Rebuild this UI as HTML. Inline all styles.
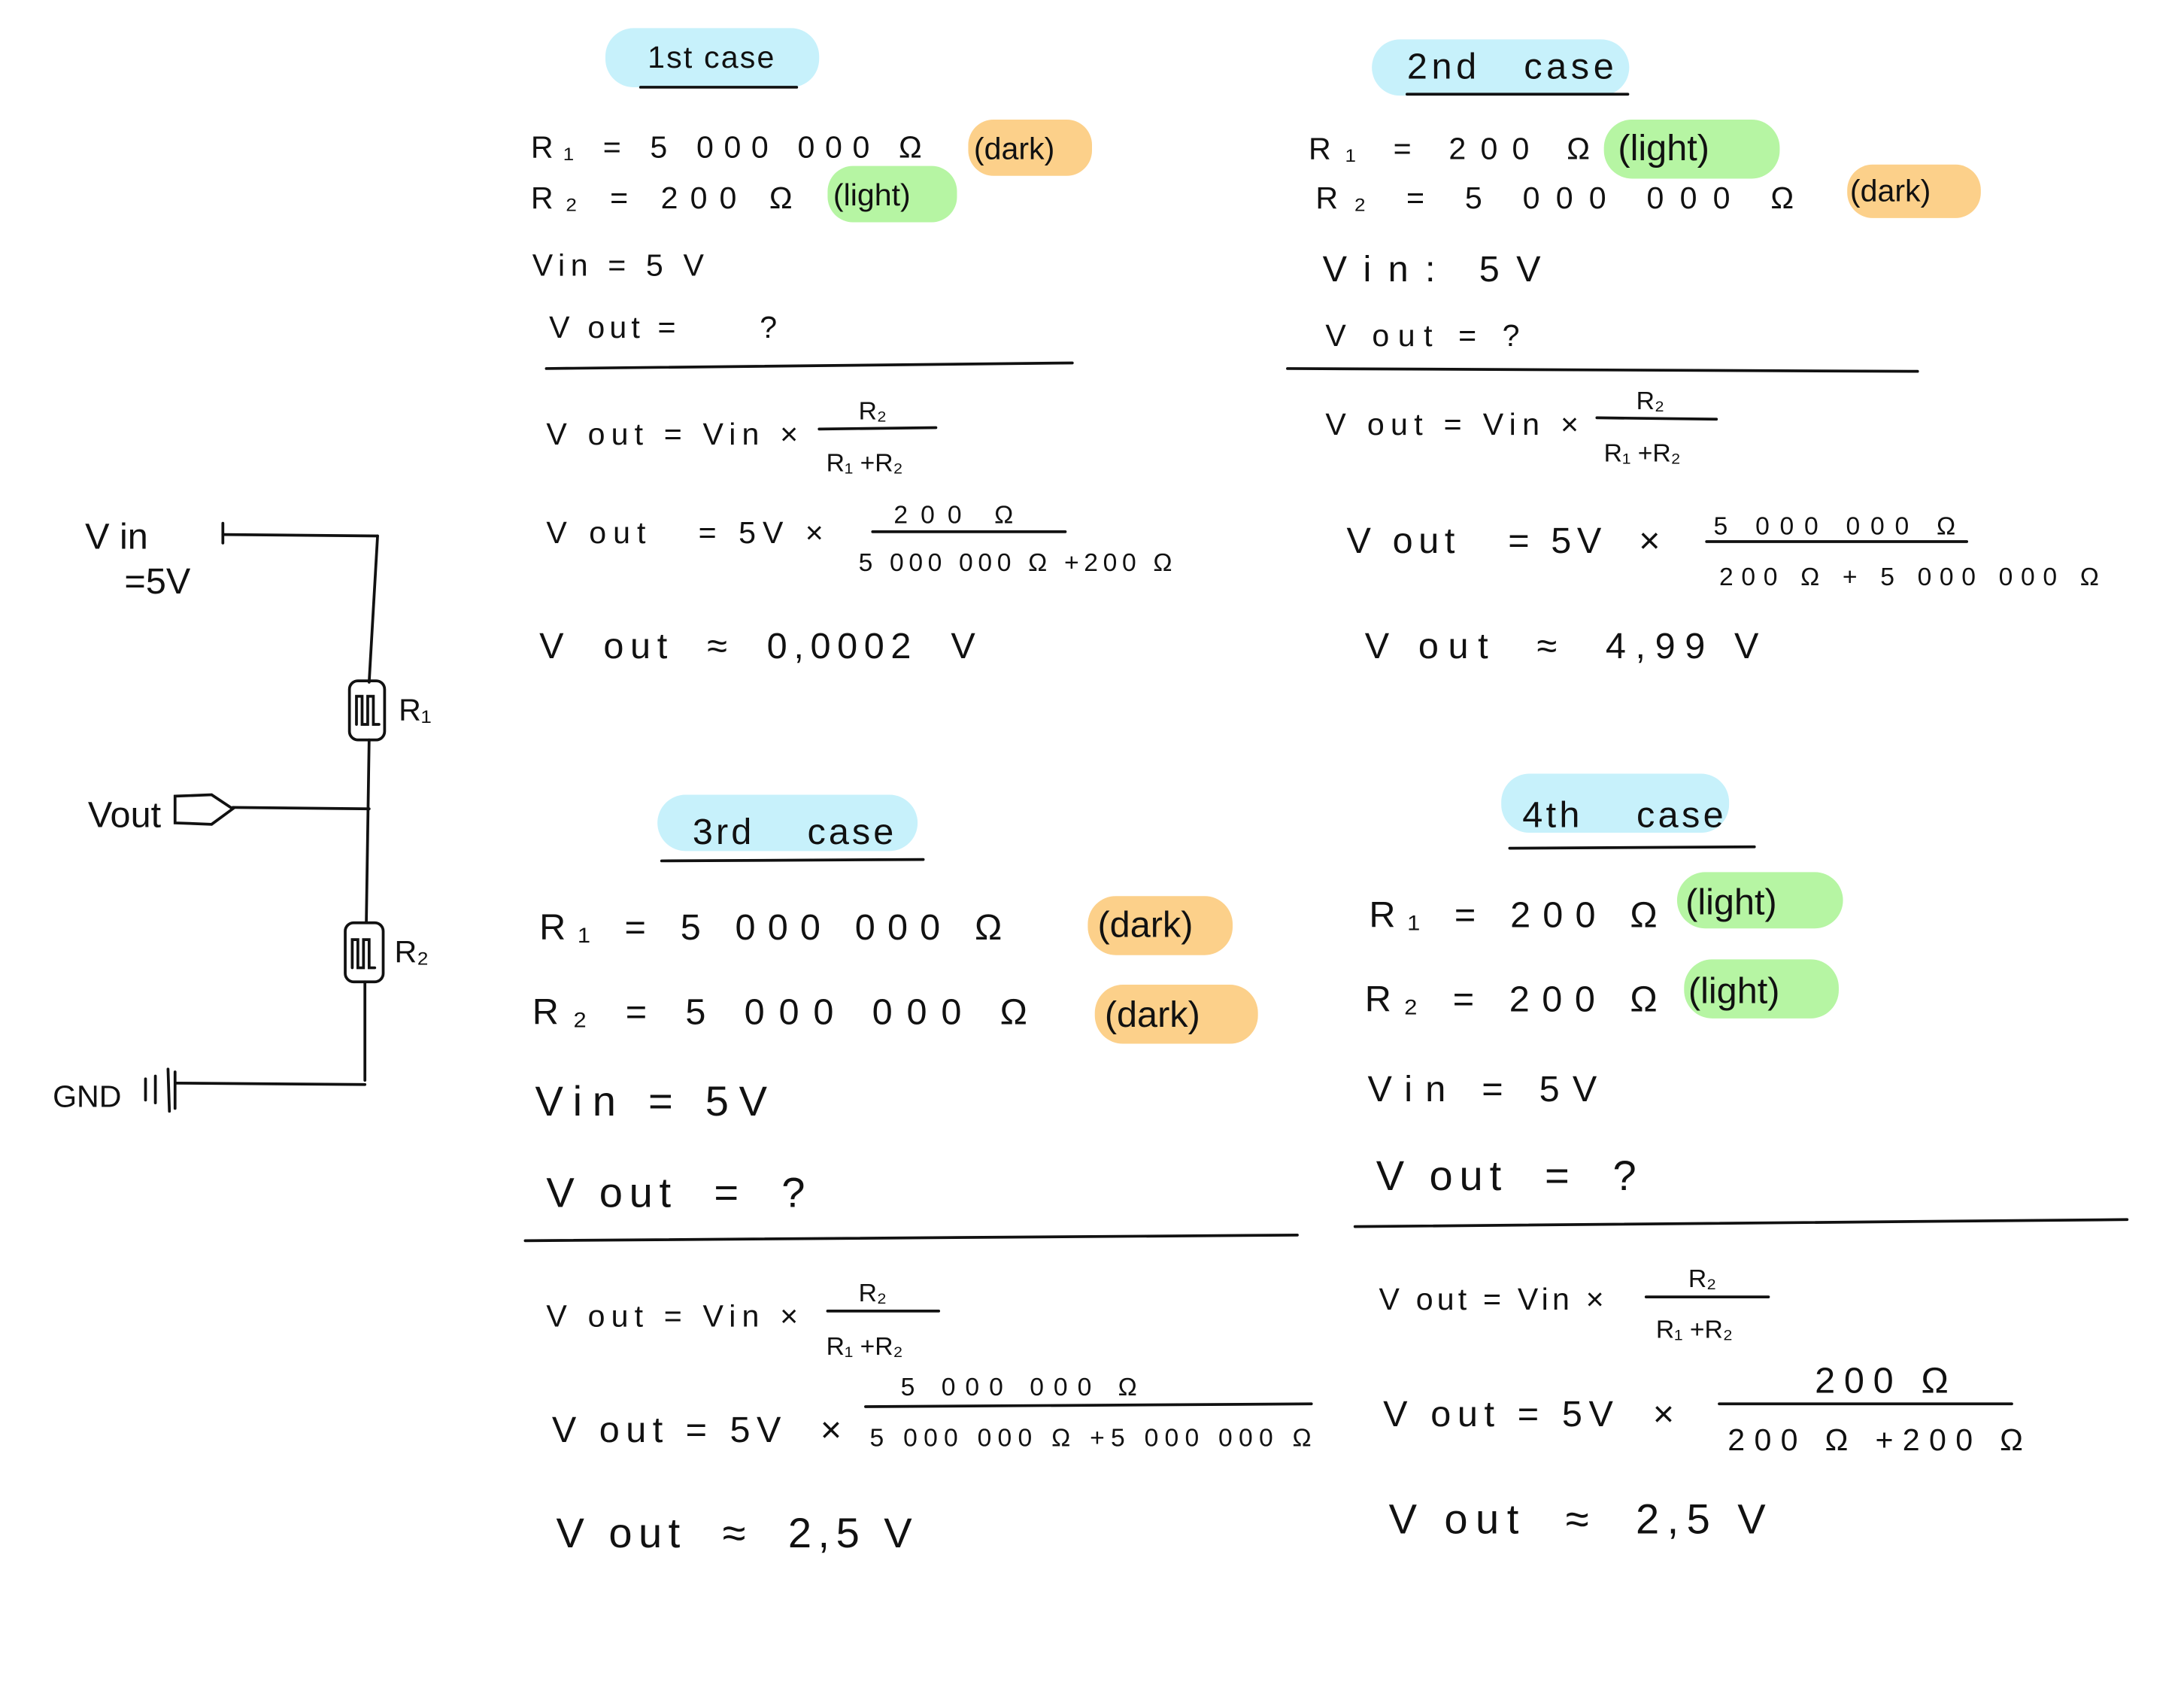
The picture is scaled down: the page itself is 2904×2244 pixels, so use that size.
<!DOCTYPE html>
<html><head><meta charset="utf-8"><style>
html,body{margin:0;padding:0;background:#fff}
svg{display:block}
text{font-family:"Liberation Sans",sans-serif;fill:#111}
.s{font-size:22px}.m{font-size:26px}.l{font-size:30px}.f{font-size:18px}
line,path,polyline,rect.o{stroke:#111;stroke-width:2;fill:none;stroke-linecap:round}
</style></head><body>
<svg width="2904" height="2244" viewBox="0 0 1552 1200">
<g>
<text class="m" x="60" y="390">V in</text>
<text class="m" x="88" y="422">=5V</text>
<line x1="158" y1="372" x2="158" y2="386"/>
<line x1="158" y1="380" x2="268" y2="381"/>
<line x1="268" y1="381" x2="262" y2="485"/>
<rect class="o" x="248" y="484" width="25" height="42" rx="6"/>
<path d="M253 515 v-20 h4 v20 h4 v-20 h4 v20 h4" />
<text class="s" x="283" y="512">R₁</text>
<line x1="262" y1="526" x2="260" y2="655"/>
<text class="m" x="62" y="588">Vout</text>
<path d="M124 566 L150 565 L165 575 L150 586 L124 585 Z"/>
<line x1="165" y1="574" x2="262" y2="575"/>
<rect class="o" x="245" y="656" width="27" height="42" rx="6"/>
<path d="M250 688 v-20 h4 v20 h4 v-20 h4 v20 h4" />
<text class="s" x="280" y="684">R₂</text>
<line x1="259" y1="698" x2="259" y2="768"/>
<text class="s" x="37" y="787">GND</text>
<line x1="103" y1="767" x2="103" y2="782"/><line x1="110" y1="765" x2="110" y2="784"/>
<line x1="119" y1="760" x2="120" y2="790"/><line x1="124" y1="762" x2="124" y2="788"/>
<line x1="125" y1="770" x2="259" y2="771"/>
</g>

<g>
<rect x="430" y="20" width="152" height="42" rx="20" fill="#c7f1fb"/>
<text class="s" x="460" y="48" textLength="90" lengthAdjust="spacing">1st case</text>
<line x1="455" y1="62" x2="566" y2="62"/>
<rect x="688" y="85" width="88" height="40" rx="18" fill="#fcd08a"/>
<rect x="588" y="118" width="92" height="40" rx="18" fill="#b6f5a3"/>
<text class="s" x="377" y="112" textLength="278" lengthAdjust="spacing">R₁ = 5 000 000 Ω</text><text class="s" x="692" y="113">(dark)</text>
<text class="s" x="377" y="148" textLength="186" lengthAdjust="spacing">R₂ = 200 Ω</text><text class="s" x="592" y="146">(light)</text>
<text class="s" x="378" y="196" textLength="122" lengthAdjust="spacing">Vin = 5 V</text>
<text class="s" x="390" y="240" textLength="162" lengthAdjust="spacing">V out =&#160;&#160;&#160;&#160;&#160;&#160;?</text>
<line x1="388" y1="262" x2="762" y2="258"/>
<text class="s" x="388" y="316" textLength="179" lengthAdjust="spacing">V out = Vin ×</text>
<text class="f" x="610" y="298">R₂</text><line x1="582" y1="305" x2="665" y2="304"/><text class="f" x="587" y="335">R₁ +R₂</text>
<text class="s" x="388" y="386" textLength="197" lengthAdjust="spacing">V out&#160;&#160;&#160;= 5V ×</text>
<text class="f" x="635" y="372" textLength="85" lengthAdjust="spacing">200 Ω</text><line x1="620" y1="378" x2="757" y2="378"/><text class="f" x="610" y="406" textLength="223" lengthAdjust="spacing">5 000 000 Ω +200 Ω</text>
<text class="m" x="383" y="468" textLength="310" lengthAdjust="spacing">V&#160;&#160;out&#160;&#160;≈&#160;&#160;0,0002&#160;&#160;V</text>
</g>

<g>
<rect x="975" y="28" width="183" height="40" rx="20" fill="#c7f1fb"/>
<text class="m" x="1000" y="56" textLength="147" lengthAdjust="spacing">2nd&#160;&#160;&#160;case</text>
<line x1="1000" y1="67" x2="1157" y2="67"/>
<rect x="1140" y="85" width="125" height="42" rx="20" fill="#b6f5a3"/>
<rect x="1313" y="117" width="95" height="38" rx="18" fill="#fcd08a"/>
<text class="s" x="930" y="113" textLength="200" lengthAdjust="spacing">R₁ = 200 Ω</text><text class="m" x="1150" y="114">(light)</text>
<text class="s" x="935" y="148" textLength="340" lengthAdjust="spacing">R₂ = 5 000 000 Ω</text><text class="s" x="1315" y="143">(dark)</text>
<text class="m" x="940" y="200" textLength="155" lengthAdjust="spacing">Vin: 5V</text>
<text class="s" x="942" y="246" textLength="138" lengthAdjust="spacing">V out = ?</text>
<line x1="915" y1="262" x2="1363" y2="264"/>
<text class="s" x="942" y="309" textLength="180" lengthAdjust="spacing">V out = Vin ×</text>
<text class="f" x="1163" y="291">R₂</text><line x1="1135" y1="297" x2="1220" y2="298"/><text class="f" x="1140" y="328">R₁ +R₂</text>
<text class="m" x="957" y="393" textLength="223" lengthAdjust="spacing">V out&#160;&#160;&#160;= 5V&#160;&#160;×</text>
<text class="f" x="1218" y="380" textLength="172" lengthAdjust="spacing">5 000 000 Ω</text><line x1="1213" y1="385" x2="1398" y2="385"/><text class="f" x="1222" y="416" textLength="270" lengthAdjust="spacing">200 Ω + 5 000 000 Ω</text>
<text class="m" x="970" y="468" textLength="280" lengthAdjust="spacing">V out&#160;&#160;≈&#160;&#160;4,99 V</text>
</g>

<g>
<rect x="467" y="565" width="185" height="40" rx="20" fill="#c7f1fb"/>
<text class="m" x="492" y="600" textLength="143" lengthAdjust="spacing">3rd&#160;&#160;&#160;&#160;case</text>
<line x1="470" y1="612" x2="656" y2="611"/>
<rect x="773" y="637" width="103" height="42" rx="20" fill="#fcd08a"/>
<rect x="778" y="700" width="116" height="42" rx="20" fill="#fcd08a"/>
<text class="m" x="383" y="668" textLength="329" lengthAdjust="spacing">R₁ = 5 000 000 Ω</text><text class="m" x="780" y="666">(dark)</text>
<text class="m" x="378" y="728" textLength="352" lengthAdjust="spacing">R₂ = 5 000 000 Ω</text><text class="m" x="785" y="730">(dark)</text>
<text class="l" x="380" y="793" textLength="165" lengthAdjust="spacing">Vin = 5V</text>
<text class="l" x="388" y="858" textLength="184" lengthAdjust="spacing">V out&#160;&#160;=&#160;&#160;?</text>
<line x1="373" y1="882" x2="922" y2="878"/>
<text class="s" x="388" y="943" textLength="179" lengthAdjust="spacing">V out = Vin ×</text>
<text class="f" x="610" y="925">R₂</text><line x1="588" y1="932" x2="667" y2="932"/><text class="f" x="587" y="963">R₁ +R₂</text>
<text class="m" x="392" y="1025" textLength="206" lengthAdjust="spacing">V out = 5V&#160;&#160;×</text>
<text class="f" x="640" y="992" textLength="168" lengthAdjust="spacing">5 000 000 Ω</text><line x1="615" y1="1000" x2="932" y2="998"/><text class="f" x="618" y="1028" textLength="314" lengthAdjust="spacing">5 000 000 Ω +5 000 000 Ω</text>
<text class="l" x="395" y="1100" textLength="253" lengthAdjust="spacing">V out&#160;&#160;≈&#160;&#160;2,5 V</text>
</g>

<g>
<rect x="1067" y="550" width="162" height="42" rx="20" fill="#c7f1fb"/>
<text class="m" x="1082" y="588" textLength="143" lengthAdjust="spacing">4th&#160;&#160;&#160;&#160;case</text>
<line x1="1073" y1="603" x2="1247" y2="602"/>
<rect x="1192" y="620" width="118" height="40" rx="20" fill="#b6f5a3"/>
<rect x="1197" y="682" width="110" height="42" rx="20" fill="#b6f5a3"/>
<text class="m" x="973" y="659" textLength="205" lengthAdjust="spacing">R₁ = 200 Ω</text><text class="m" x="1198" y="650">(light)</text>
<text class="m" x="970" y="719" textLength="208" lengthAdjust="spacing">R₂ = 200 Ω</text><text class="m" x="1200" y="713">(light)</text>
<text class="m" x="972" y="783" textLength="163" lengthAdjust="spacing">Vin = 5V</text>
<text class="l" x="978" y="846" textLength="185" lengthAdjust="spacing">V out&#160;&#160;=&#160;&#160;?</text>
<line x1="963" y1="872" x2="1512" y2="867"/>
<text class="s" x="980" y="931" textLength="160" lengthAdjust="spacing">V out = Vin ×</text>
<text class="f" x="1200" y="915">R₂</text><line x1="1170" y1="922" x2="1257" y2="922"/><text class="f" x="1177" y="951">R₁ +R₂</text>
<text class="m" x="983" y="1014" textLength="207" lengthAdjust="spacing">V out = 5V&#160;&#160;×</text>
<text class="m" x="1290" y="990" textLength="95" lengthAdjust="spacing">200 Ω</text><line x1="1222" y1="998" x2="1430" y2="998"/><text class="s" x="1228" y="1031" textLength="210" lengthAdjust="spacing">200 Ω +200 Ω</text>
<text class="l" x="987" y="1090" textLength="268" lengthAdjust="spacing">V out&#160;&#160;≈&#160;&#160;2,5 V</text>
</g>
</svg>
</body></html>
